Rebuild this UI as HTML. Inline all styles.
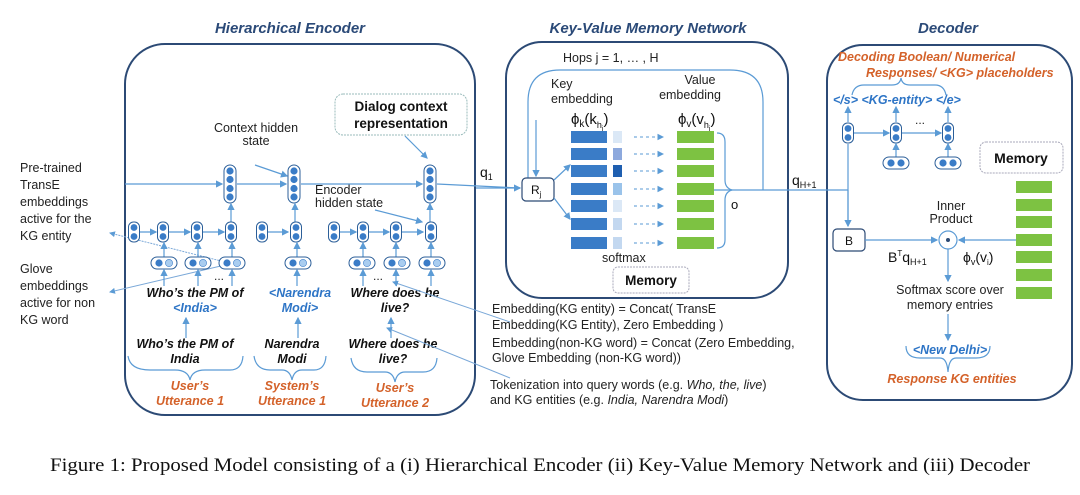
<!DOCTYPE html>
<html><head><meta charset="utf-8"><style>
html,body{margin:0;padding:0;background:#fff;}
svg{display:block;}
text{font-family:"Liberation Sans","DejaVu Sans",sans-serif;}
text.cap{font-family:"Liberation Serif","DejaVu Serif",serif;}
.t{font-size:12.5px;fill:#222;}
.tt{font-size:15px;font-weight:bold;font-style:italic;fill:#2b4a78;}
.bi{font-size:12.5px;font-weight:bold;font-style:italic;fill:#111;}
.bl{font-size:12.5px;font-weight:bold;font-style:italic;fill:#2e75c6;}
.or{font-size:12.5px;font-weight:bold;font-style:italic;fill:#d4622a;}
.ln{stroke:#5b9bd5;stroke-width:1.2;fill:none;}
.bx{stroke:#2c4a75;stroke-width:2;fill:none;}
</style></head><body>
<svg width="1080" height="495" viewBox="0 0 1080 495" xmlns="http://www.w3.org/2000/svg">
<defs>
<marker id="a" markerWidth="6" markerHeight="6" refX="5" refY="3" orient="auto"><path d="M0,0 L6,3 L0,6 z" fill="#5b9bd5"/></marker>
<g id="c4"><rect x="-6" y="-19" width="12" height="38" rx="6" fill="#fff" stroke="#2c5f99" stroke-width="1"/><circle cy="-13" r="3.6" fill="#3a7cc7"/><circle cy="-4.5" r="3.6" fill="#3a7cc7"/><circle cy="4.5" r="3.6" fill="#3a7cc7"/><circle cy="13" r="3.6" fill="#3a7cc7"/></g>
<g id="c2"><rect x="-5.5" y="-10" width="11" height="20" rx="5" fill="#fff" stroke="#2c5f99" stroke-width="1"/><circle cy="-4.5" r="3.4" fill="#3a7cc7"/><circle cy="4.5" r="3.4" fill="#3a7cc7"/></g>
<g id="p"><rect x="-13" y="-6" width="26" height="12" rx="6" fill="#fff" stroke="#2c5f99" stroke-width="1"/><circle cx="-5" r="3.6" fill="#3a7cc7"/><circle cx="5" r="3.6" fill="#a9cdf0" stroke="#3a7cc7" stroke-width=".6"/></g>
<g id="pd"><rect x="-13" y="-6" width="26" height="12" rx="6" fill="#fff" stroke="#2c5f99" stroke-width="1"/><circle cx="-5" r="3.6" fill="#3a7cc7"/><circle cx="5" r="3.6" fill="#3a7cc7"/></g>
</defs>

<text class="tt" x="290" y="33" text-anchor="middle">Hierarchical Encoder</text>
<text class="tt" x="648" y="33" text-anchor="middle">Key-Value Memory Network</text>
<text class="tt" x="948" y="33" text-anchor="middle">Decoder</text>

<rect class="bx" x="125" y="44" width="350" height="371" rx="40"/>
<rect class="bx" x="506" y="42" width="282" height="256" rx="36"/>
<rect class="bx" x="827" y="45" width="245" height="355" rx="36"/>

<g class="t" font-size="13">
<text x="20" y="172">Pre-trained</text><text x="20" y="189">TransE</text><text x="20" y="206">embeddings</text><text x="20" y="223">active for the</text><text x="20" y="240">KG entity</text>
<text x="20" y="273">Glove</text><text x="20" y="290">embeddings</text><text x="20" y="307">active for non</text><text x="20" y="324">KG word</text>
</g>
<line x1="225" y1="262" x2="110" y2="233" stroke="#7aa8d8" stroke-width="1" stroke-dasharray="2,1" marker-end="url(#a)"/>
<line x1="225" y1="265" x2="110" y2="292" stroke="#7aa8d8" stroke-width="1" marker-end="url(#a)"/>

<text class="t" x="256" y="132" text-anchor="middle" font-size="11">Context hidden</text>
<text class="t" x="256" y="145" text-anchor="middle" font-size="11">state</text>
<rect x="335" y="94" width="132" height="41" rx="8" fill="#fff" stroke="#9bb" stroke-dasharray="2,1"/>
<text x="401" y="111" text-anchor="middle" font-size="13.5" font-weight="bold" fill="#111">Dialog context</text>
<text x="401" y="128" text-anchor="middle" font-size="13.5" font-weight="bold" fill="#111">representation</text>
<line class="ln" x1="405" y1="136" x2="427" y2="158" marker-end="url(#a)"/>
<line class="ln" x1="255" y1="165" x2="287" y2="176" marker-end="url(#a)"/>
<text class="t" x="315" y="194" font-size="11">Encoder</text>
<text class="t" x="315" y="207" font-size="11">hidden state</text>
<line class="ln" x1="375" y1="210" x2="422" y2="222" marker-end="url(#a)"/>

<line class="ln" x1="125" y1="184" x2="222" y2="184" marker-end="url(#a)"/>
<line class="ln" x1="237" y1="184" x2="286" y2="184" marker-end="url(#a)"/>
<line class="ln" x1="301" y1="184" x2="422" y2="184" marker-end="url(#a)"/>
<line class="ln" x1="437" y1="184" x2="520" y2="188"/>
<use href="#c4" x="230" y="184"/><use href="#c4" x="294" y="184"/><use href="#c4" x="430" y="184"/>

<g>
<line class="ln" x1="139" y1="232" x2="156" y2="232" marker-end="url(#a)"/>
<line class="ln" x1="169" y1="232" x2="190" y2="232" marker-end="url(#a)"/>
<line class="ln" x1="203" y1="232" x2="224" y2="232" marker-end="url(#a)"/>
<line class="ln" x1="266" y1="232" x2="288" y2="232" marker-end="url(#a)"/>
<line class="ln" x1="339" y1="232" x2="356" y2="232" marker-end="url(#a)"/>
<line class="ln" x1="369" y1="232" x2="389" y2="232" marker-end="url(#a)"/>
<line class="ln" x1="402" y1="232" x2="423" y2="232" marker-end="url(#a)"/>
<line class="ln" x1="231" y1="222" x2="231" y2="204" marker-end="url(#a)"/>
<line class="ln" x1="295" y1="222" x2="295" y2="204" marker-end="url(#a)"/>
<line class="ln" x1="430" y1="222" x2="430" y2="204" marker-end="url(#a)"/>
<use href="#c2" x="134" y="232"/><use href="#c2" x="163" y="232"/><use href="#c2" x="197" y="232"/><use href="#c2" x="231" y="232"/>
<use href="#c2" x="262" y="232"/><use href="#c2" x="296" y="232"/>
<use href="#c2" x="334" y="232"/><use href="#c2" x="363" y="232"/><use href="#c2" x="396" y="232"/><use href="#c2" x="431" y="232"/>
</g>
<g>
<line class="ln" x1="164" y1="257" x2="164" y2="243" marker-end="url(#a)"/>
<line class="ln" x1="198" y1="257" x2="198" y2="243" marker-end="url(#a)"/>
<line class="ln" x1="232" y1="257" x2="232" y2="243" marker-end="url(#a)"/>
<line class="ln" x1="297" y1="257" x2="297" y2="243" marker-end="url(#a)"/>
<line class="ln" x1="363" y1="257" x2="363" y2="243" marker-end="url(#a)"/>
<line class="ln" x1="396" y1="257" x2="396" y2="243" marker-end="url(#a)"/>
<line class="ln" x1="431" y1="257" x2="431" y2="243" marker-end="url(#a)"/>
<use href="#p" x="164" y="263"/><use href="#p" x="198" y="263"/><use href="#p" x="232" y="263"/>
<use href="#p" x="298" y="263"/>
<use href="#p" x="362" y="263"/><use href="#p" x="397" y="263"/><use href="#p" x="432" y="263"/>
<line class="ln" x1="164" y1="286" x2="164" y2="270" marker-end="url(#a)"/>
<line class="ln" x1="198" y1="286" x2="198" y2="270" marker-end="url(#a)"/>
<line class="ln" x1="232" y1="286" x2="232" y2="270" marker-end="url(#a)"/>
<line class="ln" x1="297" y1="286" x2="297" y2="270" marker-end="url(#a)"/>
<line class="ln" x1="363" y1="286" x2="363" y2="270" marker-end="url(#a)"/>
<line class="ln" x1="396" y1="286" x2="396" y2="270" marker-end="url(#a)"/>
<line class="ln" x1="431" y1="286" x2="431" y2="270" marker-end="url(#a)"/>
</g>
<text x="214" y="280" font-size="12" fill="#222">...</text>
<text x="373" y="280" font-size="12" fill="#222">...</text>

<text class="bi" x="195" y="297" text-anchor="middle">Who’s the PM of</text>
<text class="bl" x="195" y="312" text-anchor="middle">&lt;India&gt;</text>
<text class="bl" x="300" y="297" text-anchor="middle">&lt;Narendra</text>
<text class="bl" x="300" y="312" text-anchor="middle">Modi&gt;</text>
<text class="bi" x="395" y="297" text-anchor="middle">Where does he</text>
<text class="bi" x="395" y="312" text-anchor="middle">live?</text>

<line class="ln" x1="186" y1="338" x2="186" y2="318" marker-end="url(#a)"/>
<line class="ln" x1="298" y1="338" x2="298" y2="318" marker-end="url(#a)"/>
<line class="ln" x1="391" y1="338" x2="391" y2="318" marker-end="url(#a)"/>

<text class="bi" x="185" y="348" text-anchor="middle">Who’s the PM of</text>
<text class="bi" x="185" y="363" text-anchor="middle">India</text>
<text class="bi" x="292" y="348" text-anchor="middle">Narendra</text>
<text class="bi" x="292" y="363" text-anchor="middle">Modi</text>
<text class="bi" x="393" y="348" text-anchor="middle">Where does he</text>
<text class="bi" x="393" y="363" text-anchor="middle">live?</text>

<path class="ln" stroke="#4a86c6" stroke-width="1.5" d="M128,356 Q130,370 150,370 L175,370 Q188,370 190,380 Q192,370 205,370 L230,370 Q242,370 243,356"/>
<path class="ln" stroke="#4a86c6" stroke-width="1.5" d="M254,356 Q256,370 270,370 L282,370 Q290,370 292,380 Q294,370 302,370 L314,370 Q325,370 326,356"/>
<path class="ln" stroke="#4a86c6" stroke-width="1.5" d="M351,358 Q353,372 367,372 L385,372 Q393,372 395,382 Q397,372 405,372 L423,372 Q436,372 437,358"/>
<text class="or" x="190" y="390" text-anchor="middle">User’s</text>
<text class="or" x="190" y="405" text-anchor="middle">Utterance 1</text>
<text class="or" x="292" y="390" text-anchor="middle">System’s</text>
<text class="or" x="292" y="405" text-anchor="middle">Utterance 1</text>
<text class="or" x="395" y="392" text-anchor="middle">User’s</text>
<text class="or" x="395" y="407" text-anchor="middle">Utterance 2</text>

<line x1="510" y1="322" x2="393" y2="282" stroke="#7aa8d8" stroke-width="1" marker-end="url(#a)"/>
<line x1="510" y1="378" x2="387" y2="328" stroke="#7aa8d8" stroke-width="1" marker-end="url(#a)"/>

<text x="480" y="177" font-size="14" fill="#111">q<tspan font-size="9" dy="3">1</tspan></text>
<line class="ln" x1="476" y1="188" x2="520" y2="188" marker-end="url(#a)"/>
<text class="t" x="563" y="62" font-size="12">Hops j = 1, … , H</text>
<path class="ln" d="M528,190 L528,102 Q528,70 560,70 L730,70 Q763,70 763,102 L763,190"/>
<line class="ln" x1="536" y1="120" x2="536" y2="176" marker-end="url(#a)"/>
<rect x="522" y="178" width="32" height="23" rx="4" fill="#fff" stroke="#2c4a75" stroke-width="1.2"/>
<text x="531" y="194" font-size="12" fill="#111">R<tspan font-size="8" dy="3">j</tspan></text>
<line class="ln" x1="554" y1="180" x2="570" y2="165" marker-end="url(#a)"/>
<line class="ln" x1="554" y1="198" x2="570" y2="219" marker-end="url(#a)"/>
<text class="t" x="551" y="88" font-size="12">Key</text>
<text class="t" x="551" y="103" font-size="12">embedding</text>
<text class="t" x="700" y="84" font-size="12" text-anchor="middle">Value</text>
<text class="t" x="690" y="99" font-size="12" text-anchor="middle">embedding</text>
<text x="571" y="124" font-size="15" fill="#111">ϕ<tspan font-size="10" dy="3">k</tspan><tspan dy="-3">(k</tspan><tspan font-size="9" dy="4">h</tspan><tspan font-size="7" dy="3">j</tspan><tspan dy="-7">)</tspan></text>
<text x="678" y="124" font-size="15" fill="#111">ϕ<tspan font-size="10" dy="3">v</tspan><tspan dy="-3">(v</tspan><tspan font-size="9" dy="4">h</tspan><tspan font-size="7" dy="3">j</tspan><tspan dy="-7">)</tspan></text>
<g>
<rect x="571" y="131" width="36" height="12" fill="#3a7cc7"/><rect x="613" y="131" width="9" height="12" fill="#dbe8f6"/><rect x="677" y="131" width="37" height="12" fill="#7dc242"/>
<rect x="571" y="148" width="36" height="12" fill="#3a7cc7"/><rect x="613" y="148" width="9" height="12" fill="#8da9dd"/><rect x="677" y="148" width="37" height="12" fill="#7dc242"/>
<rect x="571" y="165" width="36" height="12" fill="#3a7cc7"/><rect x="613" y="165" width="9" height="12" fill="#1f5fb0"/><rect x="677" y="165" width="37" height="12" fill="#7dc242"/>
<rect x="571" y="183" width="36" height="12" fill="#3a7cc7"/><rect x="613" y="183" width="9" height="12" fill="#9ac3ea"/><rect x="677" y="183" width="37" height="12" fill="#7dc242"/>
<rect x="571" y="200" width="36" height="12" fill="#3a7cc7"/><rect x="613" y="200" width="9" height="12" fill="#dbe8f6"/><rect x="677" y="200" width="37" height="12" fill="#7dc242"/>
<rect x="571" y="218" width="36" height="12" fill="#3a7cc7"/><rect x="613" y="218" width="9" height="12" fill="#c3d8f0"/><rect x="677" y="218" width="37" height="12" fill="#7dc242"/>
<rect x="571" y="237" width="36" height="12" fill="#3a7cc7"/><rect x="613" y="237" width="9" height="12" fill="#c3d8f0"/><rect x="677" y="237" width="37" height="12" fill="#7dc242"/>
</g>
<g stroke="#5b9bd5" stroke-width="1.1" stroke-dasharray="3,3">
<line x1="634" y1="137" x2="663" y2="137" marker-end="url(#a)"/><line x1="634" y1="154" x2="663" y2="154" marker-end="url(#a)"/><line x1="634" y1="171" x2="663" y2="171" marker-end="url(#a)"/><line x1="634" y1="189" x2="663" y2="189" marker-end="url(#a)"/><line x1="634" y1="206" x2="663" y2="206" marker-end="url(#a)"/><line x1="634" y1="224" x2="663" y2="224" marker-end="url(#a)"/><line x1="634" y1="243" x2="663" y2="243" marker-end="url(#a)"/>
</g>
<path class="ln" d="M717,133 Q725,133 725,142 L725,180 Q725,188 732,190 Q725,192 725,200 L725,240 Q725,248 717,248"/>
<text x="731" y="209" font-size="13" fill="#111">o</text>
<line class="ln" x1="714" y1="190" x2="848" y2="190"/>
<text class="t" x="602" y="262" font-size="11">softmax</text>
<rect x="613" y="267" width="76" height="26" rx="5" fill="#fff" stroke="#aab" stroke-dasharray="2,1"/>
<text x="651" y="285" text-anchor="middle" font-size="13.5" font-weight="bold" fill="#111">Memory</text>
<text x="792" y="185" font-size="14" fill="#111">q<tspan font-size="9" dy="3">H+1</tspan></text>

<g class="t" font-size="12.5">
<text x="492" y="313">Embedding(KG entity) = Concat( TransE</text>
<text x="492" y="329">Embedding(KG Entity), Zero Embedding )</text>
<text x="492" y="347">Embedding(non-KG word) = Concat (Zero Embedding,</text>
<text x="492" y="362">Glove Embedding (non-KG word))</text>
<text x="490" y="389">Tokenization into query words (e.g. <tspan font-style="italic">Who, the, live</tspan>)</text>
<text x="490" y="404">and KG entities (e.g. <tspan font-style="italic">India, Narendra Modi</tspan>)</text>
</g>

<text class="or" x="838" y="61">Decoding Boolean/ Numerical</text>
<text class="or" x="866" y="77">Responses/ &lt;KG&gt; placeholders</text>
<path class="ln" d="M852,95 Q854,85 864,85 L892,85 Q900,85 901,78 Q902,85 910,85 L935,85 Q944,85 946,95"/>
<text class="bl" x="833" y="104" fill="#3a6fb0">&lt;/s&gt; &lt;KG-entity&gt; &lt;/e&gt;</text>
<line class="ln" x1="848" y1="122" x2="848" y2="107" marker-end="url(#a)"/>
<line class="ln" x1="896" y1="122" x2="896" y2="107" marker-end="url(#a)"/>
<line class="ln" x1="948" y1="122" x2="948" y2="107" marker-end="url(#a)"/>
<line class="ln" x1="854" y1="133" x2="889" y2="133" marker-end="url(#a)"/>
<line class="ln" x1="902" y1="133" x2="941" y2="133" marker-end="url(#a)"/>
<use href="#c2" x="848" y="133"/><use href="#c2" x="896" y="133"/><use href="#c2" x="948" y="133"/>
<line class="ln" x1="896" y1="157" x2="896" y2="144" marker-end="url(#a)"/>
<line class="ln" x1="948" y1="157" x2="948" y2="144" marker-end="url(#a)"/>
<use href="#pd" x="896" y="163"/><use href="#pd" x="948" y="163"/>
<text x="915" y="124" font-size="12" fill="#222">...</text>
<line class="ln" x1="848" y1="226" x2="848" y2="144"/>
<line class="ln" x1="848" y1="190" x2="848" y2="226" marker-end="url(#a)"/>
<rect x="980" y="142" width="83" height="31" rx="6" fill="#fff" stroke="#aab" stroke-dasharray="2,1"/>
<text x="1021" y="163" text-anchor="middle" font-size="14" font-weight="bold" fill="#111">Memory</text>
<g fill="#7dc242">
<rect x="1016" y="181" width="36" height="12"/><rect x="1016" y="199" width="36" height="12"/><rect x="1016" y="216" width="36" height="12"/><rect x="1016" y="234" width="36" height="12"/><rect x="1016" y="251" width="36" height="12"/><rect x="1016" y="269" width="36" height="12"/><rect x="1016" y="287" width="36" height="12"/>
</g>
<rect x="833" y="229" width="32" height="22" rx="4" fill="#fff" stroke="#2c4a75" stroke-width="1.2"/>
<text x="849" y="245" text-anchor="middle" font-size="12" fill="#111">B</text>
<line class="ln" x1="865" y1="240" x2="937" y2="240" marker-end="url(#a)"/>
<line class="ln" x1="1016" y1="240" x2="959" y2="240" marker-end="url(#a)"/>
<circle cx="948" cy="240" r="9" fill="#fff" stroke="#5b9bd5" stroke-width="1.2"/>
<circle cx="948" cy="240" r="2" fill="#2c4a75"/>
<text class="t" x="951" y="210" text-anchor="middle" font-size="11">Inner</text>
<text class="t" x="951" y="223" text-anchor="middle" font-size="11">Product</text>
<text x="888" y="262" font-size="14" fill="#111">B<tspan font-size="8" dy="-6">T</tspan><tspan dy="6">q</tspan><tspan font-size="9" dy="3">H+1</tspan></text>
<text x="963" y="262" font-size="14" fill="#111">ϕ<tspan font-size="9" dy="3">v</tspan><tspan dy="-3">(v</tspan><tspan font-size="8" dy="3">i</tspan><tspan dy="-3">)</tspan></text>
<line class="ln" x1="948" y1="249" x2="948" y2="281" marker-end="url(#a)"/>
<text class="t" x="950" y="294" text-anchor="middle">Softmax score over</text>
<text class="t" x="950" y="309" text-anchor="middle">memory entries</text>
<line class="ln" x1="948" y1="314" x2="948" y2="340" marker-end="url(#a)"/>
<text class="bl" x="950" y="354" text-anchor="middle">&lt;New Delhi&gt;</text>
<path class="ln" d="M906,346 Q906,358 920,358 L940,358 Q947,358 948,372 Q949,358 956,358 L976,358 Q990,358 990,346"/>
<text class="or" x="952" y="383" text-anchor="middle">Response KG entities</text>

<text class="cap" x="50" y="471" font-size="19" fill="#111" textLength="980" lengthAdjust="spacingAndGlyphs">Figure 1: Proposed Model consisting of a (i) Hierarchical Encoder (ii) Key-Value Memory Network and (iii) Decoder</text>
</svg>
</body></html>
